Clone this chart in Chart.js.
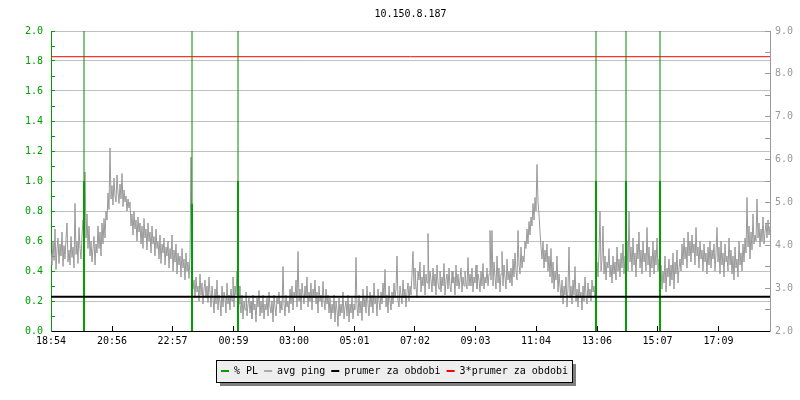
<!DOCTYPE html>
<html><head><meta charset="utf-8">
<script src="https://cdn.jsdelivr.net/npm/chart.js@4/dist/chart.umd.min.js"></script>
<style>html,body{margin:0;padding:0;background:#fff}#wrap{width:800px;height:400px}</style>
</head><body><div id="wrap"><canvas id="c" width="800" height="400"></canvas></div>
<script>
const chartTitle = '10.150.8.187';
const tickLabels = ['18:54','20:56','22:57','00:59','03:00','05:01','07:02','09:03','11:04','13:06','15:07','17:09'];
const seriesNames = ['% PL','avg ping','prumer za obdobi','3*prumer za obdobi'];
const pingStepMinutes = 2;
const pingValues = [
0.52,0.44,0.60,0.47,0.68,0.41,0.55,0.62,0.45,0.58,0.50,0.66,0.43,0.57,0.48,0.61,0.72,0.46,0.54,0.44,
0.63,0.49,0.56,0.42,0.85,0.51,0.60,0.45,0.69,0.55,0.48,0.64,0.74,0.58,1.06,0.62,0.78,0.55,0.70,0.50,
0.60,0.46,0.55,0.63,0.44,0.58,0.52,0.70,0.55,0.66,0.50,0.72,0.58,0.75,0.62,0.80,0.74,0.92,0.81,1.22,
0.88,0.97,0.84,1.02,0.90,0.86,1.04,0.92,0.85,0.98,0.88,1.05,0.83,0.94,0.86,0.90,0.80,0.88,0.82,0.86,
0.70,0.78,0.64,0.80,0.68,0.74,0.60,0.76,0.66,0.72,0.58,0.70,0.55,0.75,0.62,0.68,0.54,0.72,0.60,0.66,
0.52,0.70,0.58,0.63,0.50,0.68,0.55,0.60,0.48,0.64,0.45,0.58,0.52,0.62,0.44,0.56,0.50,0.60,0.42,0.55,
0.48,0.64,0.40,0.54,0.46,0.58,0.38,0.52,0.44,0.50,0.36,0.55,0.42,0.48,0.34,0.52,0.40,0.46,0.35,0.50,
1.16,0.38,0.28,0.34,0.22,0.36,0.26,0.30,0.20,0.38,0.24,0.32,0.18,0.28,0.34,0.22,0.30,0.19,0.36,0.25,
0.16,0.30,0.22,0.12,0.28,0.18,0.34,0.14,0.24,0.20,0.10,0.30,0.16,0.26,0.22,0.12,0.32,0.18,0.24,0.14,
0.28,0.20,0.36,0.16,0.30,0.24,0.40,0.22,0.30,0.18,0.12,0.24,0.08,0.20,0.14,0.26,0.10,0.18,0.22,0.12,
0.20,0.08,0.24,0.14,0.18,0.06,0.22,0.16,0.27,0.10,0.20,0.12,0.24,0.08,0.18,0.14,0.22,0.10,0.26,0.16,
0.12,0.20,0.06,0.24,0.16,0.10,0.22,0.18,0.26,0.12,0.20,0.14,0.43,0.18,0.10,0.24,0.16,0.20,0.12,0.28,
0.18,0.30,0.14,0.26,0.22,0.34,0.16,0.53,0.20,0.28,0.14,0.32,0.24,0.18,0.30,0.22,0.36,0.16,0.26,0.20,
0.32,0.14,0.28,0.22,0.34,0.18,0.26,0.12,0.30,0.20,0.24,0.16,0.33,0.20,0.14,0.28,0.18,0.24,0.12,0.22,
0.08,0.18,0.12,0.24,0.06,0.20,0.14,0.03,0.22,0.10,0.18,0.12,0.26,0.08,0.16,0.20,0.10,0.24,0.06,0.18,
0.12,0.22,0.08,0.18,0.14,0.49,0.16,0.10,0.24,0.12,0.20,0.07,0.28,0.16,0.22,0.12,0.30,0.18,0.10,0.26,
0.16,0.24,0.12,0.32,0.18,0.22,0.10,0.28,0.20,0.14,0.26,0.18,0.32,0.22,0.41,0.16,0.24,0.12,0.30,0.20,
0.14,0.26,0.18,0.32,0.22,0.28,0.50,0.20,0.16,0.30,0.24,0.18,0.34,0.22,0.28,0.16,0.26,0.32,0.20,0.30,
0.24,0.38,0.53,0.28,0.42,0.30,0.22,0.40,0.34,0.46,0.26,0.36,0.30,0.44,0.24,0.38,0.32,0.65,0.28,0.40,
0.34,0.26,0.42,0.30,0.38,0.24,0.44,0.32,0.28,0.40,0.26,0.36,0.30,0.45,0.24,0.34,0.38,0.28,0.42,0.30,
0.26,0.40,0.32,0.36,0.24,0.44,0.30,0.38,0.28,0.34,0.42,0.26,0.36,0.30,0.40,0.32,0.28,0.49,0.30,0.38,
0.30,0.42,0.26,0.36,0.32,0.44,0.28,0.38,0.34,0.26,0.40,0.30,0.45,0.28,0.36,0.32,0.42,0.30,0.38,0.67,
0.34,0.67,0.30,0.46,0.36,0.28,0.50,0.32,0.42,0.26,0.38,0.53,0.30,0.44,0.36,0.28,0.48,0.34,0.40,0.32,
0.42,0.30,0.48,0.36,0.52,0.40,0.34,0.67,0.44,0.38,0.56,0.42,0.50,0.46,0.60,0.55,0.68,0.58,0.73,0.64,
0.76,0.70,0.85,0.74,0.89,0.80,1.11,0.86,0.78,0.66,0.56,0.48,0.60,0.42,0.54,0.46,0.58,0.40,0.50,0.36,
0.55,0.32,0.46,0.28,0.40,0.34,0.50,0.26,0.38,0.30,0.22,0.34,0.18,0.30,0.24,0.36,0.16,0.28,0.56,0.22,
0.30,0.18,0.34,0.24,0.43,0.20,0.28,0.16,0.32,0.22,0.26,0.14,0.30,0.20,0.36,0.24,0.18,0.32,0.22,0.28,
0.20,0.34,0.26,0.30,0.22,0.38,0.46,0.36,0.52,0.80,0.40,0.48,0.70,0.38,0.50,0.34,0.46,0.42,0.55,0.36,
0.44,0.32,0.50,0.38,0.46,0.34,0.56,0.40,0.48,0.36,0.52,0.42,0.58,0.38,0.50,0.44,0.60,0.40,0.80,0.46,
0.56,0.40,0.62,0.44,0.52,0.36,0.58,0.48,0.66,0.42,0.54,0.38,0.60,0.46,0.52,0.40,0.69,0.44,0.56,0.36,
0.50,0.42,0.60,0.38,0.54,0.44,0.62,0.40,0.48,0.34,0.44,0.28,0.40,0.32,0.50,0.26,0.42,0.36,0.48,0.30,
0.44,0.34,0.52,0.28,0.46,0.38,0.54,0.32,0.42,0.48,0.40,0.58,0.44,0.62,0.48,0.56,0.42,0.66,0.50,0.60,
0.46,0.64,0.52,0.58,0.44,0.69,0.50,0.56,0.42,0.60,0.48,0.54,0.40,0.58,0.46,0.52,0.38,0.56,0.44,0.60,
0.42,0.54,0.48,0.58,0.40,0.52,0.69,0.46,0.56,0.38,0.60,0.44,0.52,0.36,0.58,0.46,0.50,0.40,0.62,0.44,
0.54,0.38,0.50,0.34,0.56,0.42,0.48,0.36,0.60,0.44,0.52,0.40,0.58,0.46,0.62,0.52,0.89,0.56,0.70,0.48,
0.66,0.54,0.78,0.58,0.64,0.60,0.88,0.62,0.72,0.56,0.68,0.60,0.76,0.58,0.66,0.72,0.62,0.74,0.64,0.70
];
const plEventMinutes = [66, 282, 374, 1090, 1150, 1218];
const plValues = [1.0, 0.85, 1.0, 1.0, 1.0, 1.0];
const plPeakValues = [100, 100, 100, 100, 100, 100];
const meanValues = [2.80];
const tripleMeanValues = [8.40];

// ---- build library data from the arrays ----
const startMin = (() => { const [h, m] = tickLabels[0].split(':').map(Number); return h * 60 + m; })();
const tickMinutes = tickLabels.map(l => { const [h, m] = l.split(':').map(Number); let d = h * 60 + m - startMin; if (d < 0) d += 1440; return d; });
const X_MAX = 1438;
const pingData = pingValues.map((v, i) => ({x: i * pingStepMinutes, y: v}));
const plData = [];
plEventMinutes.forEach((t, i) => {
  plData.push({x: t, y: 0}, {x: t, y: plValues[i]}, {x: t, y: plPeakValues[i]}, {x: t, y: null});
});
const meanData = [{x: 0, y: meanValues[0]}, {x: X_MAX, y: meanValues[0]}];
const tripleData = [{x: 0, y: tripleMeanValues[0]}, {x: X_MAX, y: tripleMeanValues[0]}];

const GREEN = '#00a000', GREEN_THIN = '#008c00', GRAY = '#999999', GRID = '#c0c0c0';
const legendColors = [GREEN, '#aaaaaa', '#000000', '#ff0000'];
const FONT = "'DejaVu Sans Mono', monospace";
Chart.defaults.font.family = FONT;
Chart.defaults.font.size = 10;

const legendBoxPlugin = {
  id: 'legendBox',
  afterLayout(chart) {
    const lg = chart.legend;
    if (!lg) return;
    lg.right -= 11;
    lg.width = lg.right - lg.left;
  },
  beforeDraw(chart) {
    const lg = chart.legend;
    if (!lg || !lg.legendHitBoxes || !lg.legendHitBoxes.length) return;
    const hb = lg.legendHitBoxes, last = hb[hb.length - 1];
    const x0 = Math.floor(hb[0].left) - 5 + 0.5;
    const x1 = Math.ceil(last.left + last.width) + 4 + 0.5;
    const y0 = Math.floor(hb[0].top) - 6 + 0.5;
    const y1 = y0 + 22;
    const ctx = chart.ctx;
    ctx.save();
    ctx.fillStyle = '#7f7f7f';
    ctx.fillRect(x0 + 3.5, y0 + 3.5, x1 - x0, y1 - y0);
    ctx.fillStyle = '#eeeeee';
    ctx.fillRect(x0, y0, x1 - x0, y1 - y0);
    ctx.strokeStyle = '#000';
    ctx.lineWidth = 1;
    ctx.strokeRect(x0, y0, x1 - x0, y1 - y0);
    ctx.restore();
  }
};

new Chart(document.getElementById('c'), {
  type: 'line',
  data: {
    datasets: [
      {label: seriesNames[0], data: plData, yAxisID: 'y', order: 2, borderColor: GREEN, borderWidth: 2,
       pointRadius: 0, spanGaps: false, tension: 0,
       segment: {
         borderWidth: c => (c.p1.parsed.y > 2 ? 1 : 2),
         borderColor: c => (c.p1.parsed.y > 2 ? GREEN_THIN : GREEN)
       }},
      {label: seriesNames[1], data: pingData, yAxisID: 'y', order: 3, borderColor: GRAY, borderWidth: 1, pointRadius: 0, tension: 0},
      {label: seriesNames[2], data: meanData, yAxisID: 'y1', order: 1, borderColor: '#000', borderWidth: 2, pointRadius: 0},
      {label: seriesNames[3], data: tripleData, yAxisID: 'y1', order: 0, borderColor: '#ff0000', borderWidth: 1, pointRadius: 0}
    ]
  },
  options: {
    responsive: false,
    animation: false,
    events: [],
    layout: {padding: {left: 0, right: 0, top: 0, bottom: 14}},
    plugins: {
      tooltip: {enabled: false},
      title: {display: true, text: chartTitle, fullSize: false, color: '#000',
              font: {family: FONT, size: 10, weight: 'normal'}, padding: {top: 8, bottom: 11}},
      legend: {
        position: 'bottom', onClick: null,
        labels: {
          boxWidth: 8, boxHeight: 2, padding: 6, color: '#000', font: {family: FONT, size: 10},
          generateLabels: chart => chart.data.datasets.map((ds, i) => ({
            text: ds.label, fillStyle: legendColors[i], strokeStyle: legendColors[i], lineWidth: 0,
            hidden: false, datasetIndex: i
          }))
        }
      }
    },
    scales: {
      x: {
        type: 'linear', min: 0, max: X_MAX,
        afterFit: s => { s.height = 29; },
        afterBuildTicks: s => { s.ticks = tickMinutes.map(v => ({value: v})); },
        ticks: {autoSkip: false, maxRotation: 0, padding: 9, color: '#000',
                callback: (v, i) => tickLabels[i]},
        grid: {drawOnChartArea: false, drawTicks: true, tickLength: -5, tickColor: '#000', color: '#000'},
        border: {display: true, color: '#000', width: 1}
      },
      y: {
        type: 'linear', position: 'left', min: 0, max: 2,
        afterFit: s => { s.width = 51; },
        ticks: {stepSize: 0.1, autoSkip: false, padding: 12, color: GREEN,
                callback: v => (Math.round(v * 10) % 2 === 0 ? Number(v).toFixed(1) : '')},
        grid: {
          drawTicks: true, tickLength: -4, tickColor: GREEN,
          color: c => (c.tick && Math.round(c.tick.value * 10) % 2 === 0 ? GRID : 'rgba(0,0,0,0)')
        },
        border: {display: true, color: GREEN, width: 1}
      },
      y1: {
        type: 'linear', position: 'right', min: 2, max: 9,
        afterFit: s => { s.width = 30; },
        ticks: {stepSize: 0.5, autoSkip: false, padding: 10, color: GRAY,
                callback: v => (Math.abs(v - Math.round(v)) < 1e-6 ? Number(v).toFixed(1) : '')},
        grid: {drawOnChartArea: false, drawTicks: true, tickLength: -5, tickColor: GRAY, color: GRAY},
        border: {display: true, color: GRAY, width: 1}
      }
    }
  },
  plugins: [legendBoxPlugin]
});
</script>
</body></html>
